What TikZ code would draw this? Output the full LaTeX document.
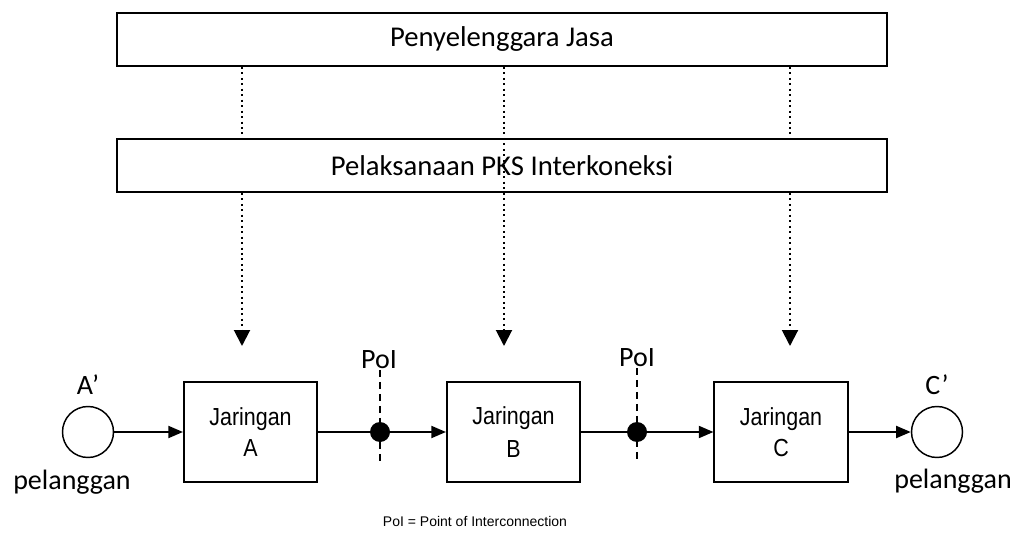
\documentclass[tikz,border=0pt]{standalone}
\usepackage{fontspec}
\setmainfont{Carlito}
\newfontfamily\arialfont{Liberation Sans}
\newfontfamily\narrowfont[FakeStretch=0.87]{Liberation Sans}
\usetikzlibrary{arrows.meta}
\begin{document}
\begin{tikzpicture}[x=0.75pt,y=-0.75pt,
  bigbox/.style={draw, line width=1.3pt, minimum width=577.5pt, minimum height=39.75pt,
    inner sep=0pt, font=\fontsize{21.5}{25}\selectfont},
  netbox/.style={draw, line width=1.3pt, minimum width=100pt, minimum height=75pt,
    align=center, font=\narrowfont\fontsize{18.5}{23.5}\selectfont},
  cust/.style={draw, circle, line width=1.1pt, minimum size=38.25pt, inner sep=0pt},
  lbl/.style={font=\fontsize{21}{25}\selectfont, inner sep=1pt},
  poidot/.style={fill, circle, minimum size=15pt, inner sep=0pt},
  flow/.style={line width=1.5pt, -{Triangle[length=11pt,width=9pt]}},
  ctl/.style={line width=1.5pt, dash pattern=on 1.5pt off 2.6pt},
  ctlarrow/.style={ctl, -{Triangle[length=12pt,width=12pt]}},
  poiline/.style={line width=1.2pt, dash pattern=on 5.5pt off 3.5pt}
]
\useasboundingbox (0,0) rectangle (1024,538);

% management layers
\node[bigbox] (prov) at (502,39.5) {Penyelenggara Jasa};
\node[bigbox] (pks) at (502,165.5) {Pelaksanaan PKS Interkoneksi};

% networks
\node[netbox] (ja) at (250.5,432) {Jaringan\\A};
\node[netbox] (jb) at (513.5,432) {\raisebox{-2.5pt}{Jaringan}\\\raisebox{-4pt}{B}};
\node[netbox] (jc) at (781,432) {Jaringan\\C};

% customers
\node[cust] (ca) at (88,432) {};
\node[cust] (cc) at (937,432) {};
\node[lbl] (la) at (88,385) {A’};
\node[lbl] (lc) at (937,385) {C’};
\node[lbl] (pa) at (72,482) {pelanggan};
\node[lbl] (pc) at (953,481) {pelanggan};

% points of interconnection
\node[lbl, anchor=base] (poi1) at (379,368) {PoI};
\node[lbl, anchor=base] (poi2) at (637,366) {PoI};
\coordinate (b1) at (380,462);
\coordinate (b2) at (637,462);

% control lines down to the networks
\coordinate (ea) at (242,346);
\coordinate (eb) at (504,346);
\coordinate (ec) at (790,346);
\draw[ctl] (prov.south -| ea) -- (pks.north -| ea);
\draw[ctlarrow] (pks.south -| ea) -- (ea);
\draw[ctlarrow] (prov.south -| eb) -- (eb);
\draw[ctl] (prov.south -| ec) -- (pks.north -| ec);
\draw[ctlarrow] (pks.south -| ec) -- (ec);

% traffic flow
\draw[flow] (ca) -- (ja);
\draw[flow] (ja) -- (jb);
\draw[flow] (jb) -- (jc);
\draw[flow] (jc) -- (cc);

\draw[poiline] (b1 |- poi1.south) -- (b1);
\draw[poiline] (b2 |- poi2.south) -- (b2);
\node[poidot] (dot1) at (380,432) {};
\node[poidot] (dot2) at (637,432) {};

\node[font=\arialfont\fontsize{10.5}{12}\selectfont] (note) at (475,521)
  {PoI = Point of Interconnection};
\end{tikzpicture}
\end{document}
